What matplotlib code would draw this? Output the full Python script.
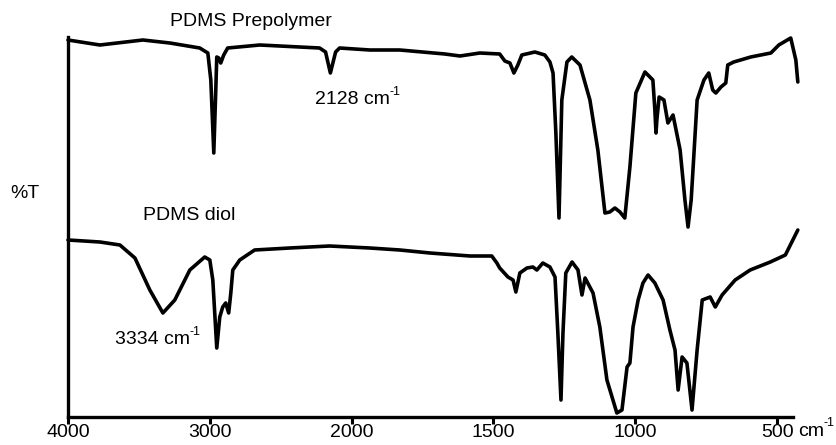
import numpy as np
import matplotlib
matplotlib.use('Agg')
import matplotlib.pyplot as plt

plt.rcParams['font.family'] = ['Liberation Sans', 'DejaVu Sans']

# PDMS prepolymer (top trace): wavenumber (cm-1) and %T (arbitrary offset)
pre_wn = [4000, 3775, 3472, 3282, 3071, 3014, 2993, 2972, 2958, 2951, 2937, 2923, 2902, 2874,
          2648, 2367, 2226, 2184, 2150, 2113, 2085, 1936, 1830, 1671, 1618, 1548, 1478, 1460,
          1442, 1428, 1414, 1400, 1354, 1319, 1301, 1290, 1280, 1269, 1259, 1241, 1224, 1195,
          1160, 1132, 1107, 1090, 1072, 1054, 1037, 1019, 998, 966, 938, 931, 927, 924, 916,
          899, 885, 867, 842, 825, 814, 803, 796, 782, 758, 741, 727, 716, 698, 681, 674, 653,
          593, 522, 494, 452, 434, 427]
pre_t = [377, 372, 377, 374, 369, 364, 337, 264, 327, 360, 359, 354, 362, 369,
         372, 370, 369, 365, 344, 365, 369, 367, 367, 363, 361, 364, 363, 356,
         354, 344, 352, 362, 365, 362, 355, 344, 284, 199, 317, 355, 360, 352,
         317, 267, 204, 205, 209, 205, 199, 250, 324, 345, 337, 307, 284, 297, 320,
         317, 294, 302, 267, 217, 190, 217, 250, 317, 337, 344, 327, 324, 330, 334, 352, 355,
         360, 364, 372, 379, 357, 335]

# PDMS diol (bottom trace)
diol_wn = [4000, 3775, 3634, 3528, 3423, 3331, 3247, 3141, 3036, 3000, 2979, 2951, 2930, 2909,
           2888, 2867, 2852, 2838, 2789, 2684, 2437, 2156, 1936, 1830, 1724, 1583, 1506, 1488,
           1478, 1449, 1431, 1421, 1407, 1382, 1361, 1347, 1326, 1301, 1283, 1273, 1262, 1255,
           1245, 1223, 1202, 1188, 1177, 1149, 1125, 1100, 1065, 1047, 1029, 1019, 1008, 990,
           973, 955, 931, 902, 878, 860, 849, 835, 818, 800, 782, 764, 736, 718, 694, 648, 595,
           524, 471, 427]
diol_t = [177, 175, 172, 159, 127, 104, 117, 147, 160, 157, 137, 69, 100, 110,
          114, 104, 124, 147, 157, 167, 169, 171, 169, 167, 164, 161, 161, 154,
          149, 140, 137, 125, 144, 149, 150, 147, 154, 150, 140, 84, 17, 84,
          144, 155, 147, 122, 139, 124, 90, 37, 4, 7, 50, 54, 90, 117,
          134, 142, 134, 117, 87, 67, 27, 60, 54, 7, 67, 117, 120, 110, 122, 137, 147,
          155, 162, 187]

xticks = [4000, 3000, 2000, 1500, 1000, 500]


# IR style axis: region below 2000 cm-1 is expanded 2x
def fwd(w):
    w = np.asarray(w, dtype=float)
    return np.where(w <= 2000, w, 2000 + (w - 2000) / 2)


def inv(u):
    u = np.asarray(u, dtype=float)
    return np.where(u <= 2000, u, 2000 + (u - 2000) * 2)


def sup_label(t):
    # small raised "-1" right after a text
    ax.annotate('-1', xy=(1, 0.62), xycoords=t, fontsize=9, ha='left', va='bottom')


fig = plt.figure(figsize=(8.36, 4.45), dpi=100)
ax = fig.add_axes([68 / 836, 28 / 445, (793 - 68) / 836, (417 - 37) / 445])
ax.set_xscale('function', functions=(fwd, inv))

for wn, t in [(pre_wn, pre_t), (diol_wn, diol_t)]:
    ax.plot(wn, t, color='black', lw=2.6, clip_on=False,
            solid_joinstyle='round', solid_capstyle='round')

ax.set_xlim(4000, 444)
ax.set_ylim(0, 380)
ax.set_xticks(xticks)
ax.set_xticklabels([str(t) for t in xticks])
ax.set_yticks([])
ax.spines['top'].set_visible(False)
ax.spines['right'].set_visible(False)
ax.spines['left'].set_linewidth(2.4)
ax.spines['bottom'].set_linewidth(2.4)
ax.tick_params(axis='x', direction='out', length=5, width=2.2, labelsize=14, pad=0)
ax.xaxis.set_minor_locator(plt.NullLocator())

ax.text(2712, 395, 'PDMS Prepolymer', fontsize=14, ha='center', va='center', clip_on=False)
sup_label(ax.text(2261, 317, '2128 cm', fontsize=14, ha='left', va='center'))
ax.text(3472, 202, 'PDMS diol', fontsize=14, ha='left', va='center')
sup_label(ax.text(3669, 77, '3334 cm', fontsize=14, ha='left', va='center'))
fig.text(10 / 836, 1 - 193 / 445, '%T', fontsize=14, ha='left', va='center')
sup_label(fig.text(798 / 836, 1 - 431 / 445, 'cm', fontsize=14, ha='left', va='center'))

fig.savefig('out.png', dpi=100)
